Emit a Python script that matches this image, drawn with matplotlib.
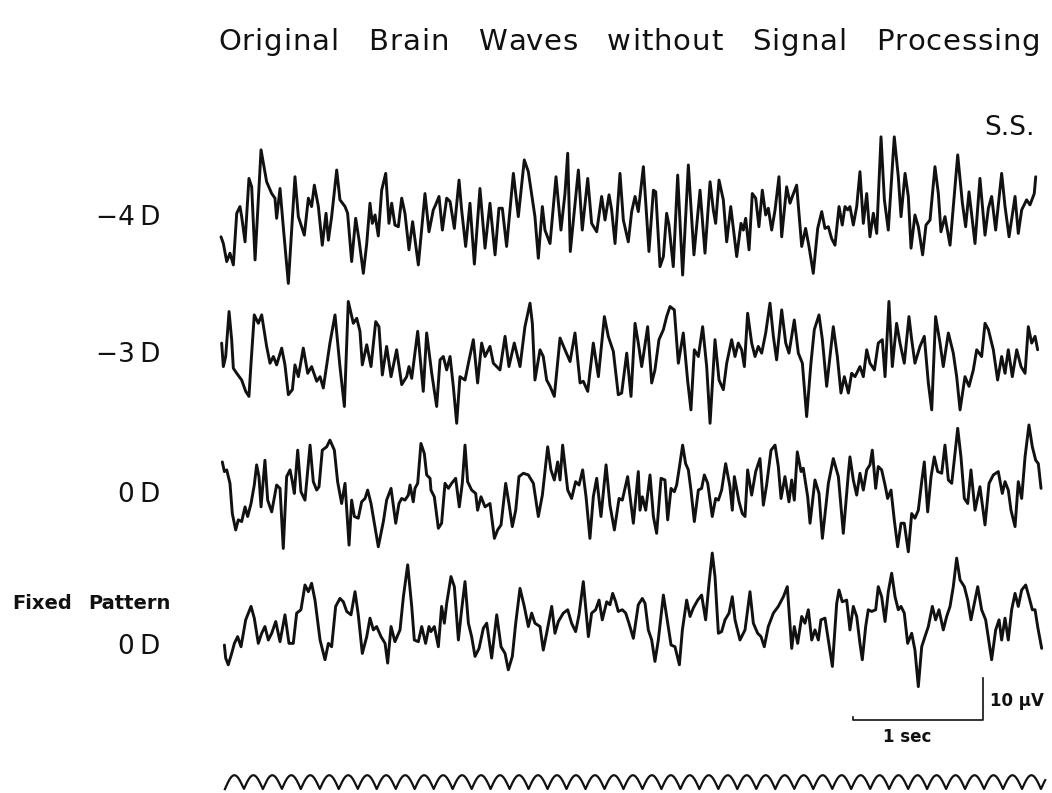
import numpy as np
import matplotlib
matplotlib.use("Agg")
import matplotlib.pyplot as plt
from matplotlib.textpath import TextToPath
from matplotlib.font_manager import FontProperties

# ---------------------------------------------------------------------------
# EEG recordings, subject S.S. — (time [s], amplitude [µV]) turning points
# ---------------------------------------------------------------------------
trace_minus4d = [
    (0.000, -4.0), (0.018, -5.6), (0.044, -9.9), (0.069, -7.9), (0.095, -10.7), (0.121, 1.6),
    (0.146, 3.2), (0.159, 0.8), (0.185, -5.2), (0.215, 9.9), (0.236, 7.9), (0.262, -9.5),
    (0.308, 16.7), (0.351, 9.1), (0.390, 6.3), (0.415, 5.2), (0.428, 0.4), (0.454, 7.5),
    (0.479, -1.6), (0.518, -15.1), (0.569, 10.3), (0.595, 0.8), (0.641, -3.6), (0.672, 5.2),
    (0.697, 3.2), (0.718, 8.3), (0.749, 3.2), (0.779, -6.0), (0.808, 1.6), (0.826, -4.8),
    (0.851, 0.8), (0.890, 11.9), (0.915, 4.8), (0.954, 3.2), (0.974, 1.6), (1.005, -9.9),
    (1.036, 0.4), (1.062, -4.8), (1.095, -12.7), (1.121, -5.6), (1.146, 4.0), (1.164, -0.8),
    (1.185, 1.2), (1.210, -3.8), (1.236, 7.1), (1.267, 11.1), (1.292, -0.8), (1.313, 4.0),
    (1.338, -1.2), (1.364, -1.6), (1.390, 5.2), (1.415, 1.6), (1.446, -7.1), (1.474, -0.4),
    (1.518, -10.7), (1.569, 6.3), (1.600, -2.8), (1.633, 2.4), (1.651, 3.6), (1.677, 5.6),
    (1.703, -2.4), (1.736, 5.2), (1.762, 4.4), (1.795, -2.0), (1.831, 9.5), (1.851, 2.4),
    (1.882, -6.3), (1.915, 4.0), (1.949, -10.5), (1.992, 7.5), (2.031, -6.7), (2.069, 4.0),
    (2.108, -8.3), (2.138, 2.8), (2.164, 2.8), (2.197, -6.3), (2.249, 11.1), (2.287, 0.8),
    (2.333, 14.3), (2.364, 11.5), (2.390, 6.0), (2.415, 0.8), (2.441, -9.1), (2.472, 3.2),
    (2.492, -2.4), (2.531, -5.6), (2.577, 10.3), (2.615, -2.4), (2.646, 6.3), (2.667, 15.9),
    (2.687, -7.5), (2.749, 11.9), (2.779, -2.4), (2.821, 9.9), (2.851, -0.8), (2.890, -2.8),
    (2.928, 5.6), (2.954, 0.0), (2.985, 6.0), (3.005, 2.4), (3.031, -5.6), (3.069, 11.1),
    (3.095, 0.0), (3.133, -5.2), (3.159, 2.0), (3.185, 5.6), (3.210, 2.0), (3.249, 12.7),
    (3.292, -7.5), (3.326, 7.1), (3.344, 6.7), (3.377, -11.1), (3.403, -8.7), (3.428, 1.6),
    (3.446, -1.2), (3.479, -11.1), (3.513, 10.7), (3.551, -13.1), (3.595, 13.1), (3.638, -8.3),
    (3.685, 7.1), (3.723, -7.9), (3.762, 9.1), (3.787, 2.4), (3.805, -0.8), (3.831, 9.5),
    (3.864, 4.8), (3.890, -5.2), (3.921, 3.2), (3.967, -8.7), (4.000, -0.8), (4.018, -2.4),
    (4.036, 0.4), (4.062, -7.1), (4.087, 6.3), (4.113, 5.2), (4.138, -1.6), (4.164, 7.1),
    (4.190, 1.2), (4.210, 2.8), (4.236, -2.4), (4.262, 2.4), (4.292, 10.3), (4.313, -4.0),
    (4.351, 7.9), (4.377, 4.0), (4.395, 5.6), (4.428, 8.3), (4.467, -6.3), (4.497, -2.0),
    (4.523, -6.3), (4.556, -12.7), (4.590, -2.0), (4.621, 2.0), (4.646, -2.0), (4.672, -1.6),
    (4.697, -4.4), (4.723, -6.0), (4.754, 3.2), (4.779, -1.2), (4.800, 3.2), (4.821, 2.4),
    (4.838, 3.2), (4.864, -1.2), (4.890, 3.2), (4.915, 11.5), (4.941, -0.8), (4.967, 6.3),
    (4.992, -4.0), (5.018, 1.6), (5.044, -3.2), (5.077, 19.8), (5.103, 4.8), (5.133, -2.4),
    (5.179, 19.8), (5.210, 10.3), (5.231, 0.8), (5.262, 11.1), (5.287, 5.6), (5.308, -6.7),
    (5.338, 1.2), (5.364, -1.6), (5.397, -8.3), (5.423, -1.2), (5.454, 0.0), (5.492, 12.7),
    (5.518, 6.3), (5.538, -2.8), (5.569, 0.8), (5.608, -6.0), (5.667, 15.5), (5.703, 4.0),
    (5.728, -1.6), (5.754, 6.7), (5.800, -5.6), (5.838, 9.9), (5.877, -3.6), (5.903, 2.8),
    (5.928, 5.6), (5.959, -2.4), (6.005, 11.1), (6.031, 3.2), (6.062, -4.0), (6.108, 5.6),
    (6.133, -3.2), (6.159, 2.4), (6.197, 4.8), (6.223, 3.6), (6.256, 6.3), (6.267, 10.3),
]

trace_minus3d = [
    (0.005, 2.8), (0.018, -2.8), (0.036, -0.4), (0.062, 10.3), (0.082, 3.6), (0.095, -3.2),
    (0.121, -4.4), (0.159, -6.0), (0.190, -8.7), (0.215, -9.9), (0.231, -2.0), (0.256, 9.5),
    (0.287, 7.5), (0.313, 9.5), (0.333, 5.6), (0.351, 2.0), (0.377, -2.0), (0.403, -0.4),
    (0.428, -2.4), (0.467, 1.6), (0.492, -2.4), (0.518, -9.5), (0.549, -8.3), (0.569, -2.4),
    (0.595, -5.2), (0.633, 1.6), (0.667, -4.4), (0.697, -2.8), (0.736, -6.3), (0.762, -5.2),
    (0.787, -7.9), (0.838, 2.8), (0.877, 9.5), (0.915, -2.8), (0.949, -12.3), (0.979, 12.7),
    (1.018, 7.5), (1.044, 8.7), (1.069, 5.6), (1.087, -2.4), (1.121, 2.4), (1.154, -2.8),
    (1.190, 7.9), (1.215, 6.7), (1.241, -4.8), (1.274, 2.0), (1.308, -5.2), (1.351, 1.2),
    (1.390, -7.1), (1.428, -5.2), (1.446, -2.8), (1.467, -5.6), (1.513, 5.6), (1.556, -8.7),
    (1.582, 5.2), (1.608, -1.2), (1.621, -4.4), (1.659, -12.3), (1.685, -1.2), (1.710, -0.4),
    (1.736, -3.6), (1.762, -0.4), (1.787, -7.5), (1.813, -16.3), (1.838, -5.2), (1.877, -6.0),
    (1.903, -2.0), (1.941, 3.6), (1.974, -6.7), (2.005, 2.8), (2.031, -0.4), (2.069, 2.0),
    (2.095, -2.0), (2.121, -2.8), (2.146, -3.6), (2.185, 4.4), (2.215, -2.8), (2.256, 2.8),
    (2.300, -2.8), (2.338, 6.7), (2.377, 12.3), (2.395, 7.5), (2.415, -6.0), (2.454, 1.2),
    (2.479, -0.4), (2.505, -6.0), (2.531, -7.5), (2.564, -9.9), (2.608, 4.0), (2.646, 1.2),
    (2.685, -1.6), (2.723, 5.2), (2.762, -6.7), (2.787, -6.3), (2.821, -8.7), (2.864, 2.8),
    (2.903, -5.2), (2.949, 9.1), (2.979, 4.4), (3.018, 0.8), (3.056, -9.5), (3.082, -9.1),
    (3.121, 0.4), (3.154, -9.9), (3.185, 7.5), (3.210, 2.8), (3.236, -2.8), (3.256, 1.2),
    (3.282, 6.7), (3.313, -6.7), (3.338, -3.6), (3.369, 3.6), (3.403, 6.0), (3.428, 9.1),
    (3.454, 11.5), (3.487, 10.7), (3.518, -2.0), (3.556, 5.2), (3.590, -6.3), (3.615, -13.1),
    (3.641, 1.2), (3.672, -0.4), (3.705, 6.7), (3.736, -2.8), (3.762, -16.3), (3.800, 3.6),
    (3.831, -6.0), (3.864, -8.3), (3.890, -2.0), (3.928, 3.6), (3.954, -0.4), (3.979, 2.8),
    (4.005, 1.2), (4.026, -2.8), (4.051, 9.9), (4.082, 2.8), (4.108, -0.4), (4.133, 2.0),
    (4.159, 0.4), (4.190, 5.2), (4.223, 12.3), (4.249, 4.4), (4.274, -1.2), (4.313, 10.7),
    (4.344, 2.8), (4.369, 0.4), (4.410, 8.3), (4.441, 0.4), (4.472, -2.0), (4.505, -14.7),
    (4.538, -2.0), (4.564, 6.0), (4.600, 9.5), (4.626, 3.6), (4.659, -7.5), (4.710, 6.7),
    (4.741, -0.4), (4.769, -9.1), (4.795, -5.2), (4.826, -9.1), (4.851, -4.4), (4.877, -5.2),
    (4.915, -2.8), (4.941, -5.2), (4.967, 1.2), (4.992, -2.0), (5.026, -3.6), (5.056, 2.8),
    (5.087, 3.6), (5.108, -5.2), (5.138, 12.7), (5.164, -2.8), (5.197, 7.5), (5.223, 2.8),
    (5.256, -2.0), (5.292, 9.1), (5.313, 3.6), (5.338, -2.0), (5.377, 2.0), (5.410, 4.4),
    (5.441, -6.7), (5.467, -13.1), (5.497, 9.1), (5.531, 2.8), (5.556, -2.8), (5.595, 5.2),
    (5.633, 0.4), (5.659, -5.2), (5.685, -13.1), (5.723, -5.2), (5.754, -7.5), (5.787, -3.6),
    (5.813, 1.2), (5.851, -0.4), (5.877, 7.5), (5.903, 6.0), (5.941, 1.2), (5.974, -6.0),
    (6.005, -0.4), (6.031, -4.4), (6.056, 1.2), (6.087, -5.2), (6.121, 1.2), (6.154, -2.8),
    (6.185, -4.4), (6.210, 6.7), (6.236, 2.8), (6.262, 4.4), (6.282, 1.2),
]

trace_0d = [
    (0.010, 6.7), (0.026, 4.4), (0.044, 4.8), (0.069, 1.6), (0.087, -5.6), (0.113, -9.5),
    (0.133, -7.1), (0.159, -7.5), (0.185, -4.0), (0.205, -6.3), (0.231, -3.2), (0.256, 1.2),
    (0.274, 6.0), (0.292, 3.2), (0.308, -4.0), (0.338, 7.1), (0.359, -2.4), (0.390, -5.2),
    (0.428, 1.2), (0.454, 0.4), (0.479, -13.9), (0.505, 3.2), (0.531, 4.8), (0.549, 2.0),
    (0.564, -0.8), (0.590, 9.5), (0.615, -0.4), (0.646, -2.4), (0.685, 10.7), (0.710, 2.0),
    (0.736, 0.0), (0.754, 0.8), (0.779, 9.5), (0.813, 10.3), (0.838, 11.9), (0.872, 9.5),
    (0.897, 2.0), (0.928, -3.2), (0.954, 1.6), (0.985, -13.1), (1.005, -2.4), (1.026, -6.3),
    (1.056, -6.7), (1.082, -2.8), (1.108, -2.0), (1.128, 0.0), (1.154, -3.2), (1.210, -13.5),
    (1.249, -7.5), (1.274, -2.4), (1.308, 0.4), (1.344, -7.9), (1.369, -3.2), (1.390, -2.0),
    (1.415, -2.4), (1.441, -1.2), (1.454, 1.2), (1.479, -2.8), (1.492, 0.4), (1.513, 1.6),
    (1.538, 11.1), (1.564, 8.7), (1.582, 3.6), (1.608, 2.8), (1.615, 0.0), (1.641, -1.6),
    (1.672, -9.1), (1.697, -7.9), (1.723, 1.6), (1.749, 0.4), (1.774, 1.6), (1.805, 2.8),
    (1.833, -4.0), (1.856, 1.6), (1.877, 10.7), (1.897, 2.0), (1.928, 0.0), (1.959, -0.8),
    (1.974, -4.8), (2.000, -1.6), (2.031, -4.0), (2.069, -3.2), (2.103, -11.5), (2.128, -9.5),
    (2.154, -8.3), (2.190, 1.6), (2.215, -3.2), (2.241, -8.7), (2.267, -4.8), (2.292, 3.2),
    (2.326, 4.0), (2.364, 3.6), (2.403, 1.6), (2.441, -6.3), (2.472, -1.2), (2.513, 10.3),
    (2.538, 4.8), (2.564, 2.4), (2.590, 6.7), (2.608, 2.4), (2.628, 10.7), (2.667, 0.0),
    (2.697, -2.0), (2.728, 2.0), (2.754, 1.2), (2.782, 4.8), (2.808, -1.6), (2.838, -11.5),
    (2.864, -1.6), (2.890, 2.8), (2.923, -6.3), (2.962, 6.0), (2.992, -3.6), (3.026, -9.5),
    (3.062, -2.0), (3.087, -2.4), (3.128, 3.2), (3.172, -7.9), (3.210, 4.4), (3.223, -4.8),
    (3.241, -1.6), (3.267, -4.8), (3.300, 3.6), (3.326, -6.3), (3.351, -10.3), (3.385, 2.8),
    (3.415, 2.4), (3.436, -7.1), (3.462, 0.4), (3.487, -0.4), (3.505, 1.2), (3.523, 4.8),
    (3.551, 10.7), (3.574, 6.3), (3.595, 4.8), (3.615, 0.0), (3.641, -7.5), (3.672, 0.0),
    (3.697, 0.4), (3.718, 3.6), (3.744, 1.6), (3.779, -6.3), (3.805, -2.0), (3.826, -2.4),
    (3.851, 0.0), (3.882, 6.3), (3.915, 0.8), (3.933, -4.8), (3.949, 3.2), (3.985, -2.8),
    (4.010, -5.6), (4.031, -6.3), (4.051, 4.8), (4.082, -1.2), (4.113, 4.4), (4.146, 7.5),
    (4.172, -3.6), (4.197, 1.2), (4.231, 9.5), (4.262, 10.7), (4.287, 5.6), (4.308, -2.0),
    (4.338, 3.2), (4.369, -2.8), (4.390, 2.4), (4.410, -2.4), (4.433, 9.1), (4.462, 4.4),
    (4.479, 5.2), (4.513, -1.6), (4.531, -7.9), (4.569, 2.4), (4.600, -0.8), (4.626, -11.5),
    (4.672, 1.6), (4.710, 7.5), (4.749, 3.2), (4.787, -10.3), (4.826, 4.0), (4.838, 7.9),
    (4.864, 2.4), (4.890, -1.2), (4.915, 4.0), (4.941, 0.0), (4.967, 4.8), (4.992, 6.0),
    (5.010, 9.5), (5.036, 0.4), (5.056, 5.6), (5.082, 4.8), (5.108, 1.2), (5.128, -2.0),
    (5.154, 0.0), (5.179, -7.1), (5.205, -13.5), (5.231, -7.9), (5.256, -7.9), (5.287, -14.7),
    (5.313, -5.6), (5.338, -6.7), (5.364, -4.8), (5.390, 2.0), (5.410, 6.7), (5.436, -5.2),
    (5.462, 3.2), (5.487, 7.9), (5.513, 4.4), (5.544, 4.0), (5.569, 10.7), (5.595, 2.4),
    (5.621, 1.6), (5.646, 8.7), (5.667, 14.7), (5.692, 7.9), (5.718, -2.0), (5.744, -3.2),
    (5.769, 4.8), (5.800, -4.8), (5.838, 0.8), (5.877, -8.3), (5.908, 1.6), (5.941, 3.6),
    (5.979, 4.4), (6.010, -0.8), (6.031, 2.0), (6.056, 0.0), (6.077, -4.8), (6.108, -8.7),
    (6.133, 2.0), (6.159, -2.0), (6.185, 7.9), (6.215, 15.5), (6.241, 10.3), (6.267, 7.1),
    (6.287, 6.3), (6.308, 0.4),
]

trace_fixed_0d = [
    (0.026, -3.6), (0.036, -6.7), (0.056, -8.3), (0.082, -5.6), (0.103, -3.2), (0.128, -1.6),
    (0.154, -4.0), (0.190, 2.4), (0.231, 5.6), (0.256, 2.8), (0.287, -3.2), (0.313, -0.8),
    (0.338, 0.8), (0.364, -2.4), (0.390, -0.8), (0.421, 2.0), (0.454, -2.8), (0.492, 3.6),
    (0.523, -3.2), (0.556, -3.2), (0.582, 4.0), (0.615, 4.8), (0.646, 10.7), (0.672, 9.1),
    (0.697, 11.1), (0.723, 7.1), (0.762, -2.4), (0.800, -7.1), (0.826, -3.2), (0.851, -4.0),
    (0.882, 5.6), (0.915, 7.5), (0.941, 6.7), (0.967, 4.4), (1.000, 3.6), (1.031, 9.1),
    (1.056, 3.6), (1.087, -5.6), (1.121, -1.6), (1.146, 2.8), (1.172, 0.0), (1.197, 0.8),
    (1.231, -1.6), (1.262, -3.2), (1.282, -7.9), (1.308, 0.8), (1.338, -2.8), (1.377, 0.0),
    (1.403, 7.9), (1.436, 15.5), (1.467, 5.6), (1.487, -2.4), (1.518, -2.8), (1.544, 0.8),
    (1.574, -3.2), (1.600, 0.8), (1.615, -0.4), (1.641, 0.8), (1.672, -4.0), (1.697, 5.6),
    (1.718, 1.6), (1.736, 6.3), (1.769, 12.7), (1.795, 10.3), (1.826, -2.4), (1.851, 4.8),
    (1.877, 11.5), (1.903, 1.6), (1.928, -1.6), (1.954, -6.3), (1.985, -4.4), (2.018, 0.4),
    (2.044, 1.6), (2.082, -6.7), (2.121, 3.6), (2.154, -4.0), (2.185, -5.6), (2.210, -9.5),
    (2.241, -6.3), (2.267, 1.6), (2.300, 9.9), (2.333, 5.6), (2.364, 0.8), (2.390, 4.0),
    (2.415, 1.6), (2.454, 0.8), (2.479, -4.8), (2.505, -0.8), (2.544, 5.6), (2.569, -0.8),
    (2.595, 2.0), (2.633, 4.0), (2.667, 4.8), (2.697, 1.6), (2.728, -0.4), (2.754, 3.6),
    (2.787, 11.5), (2.826, -1.6), (2.851, 4.0), (2.882, 4.8), (2.908, 7.1), (2.933, 2.4),
    (2.967, 6.7), (2.992, 6.0), (3.013, 8.7), (3.036, 6.7), (3.056, 4.4), (3.087, 4.8),
    (3.113, 4.0), (3.138, 1.6), (3.172, -2.0), (3.210, 6.0), (3.241, 7.5), (3.262, 6.3),
    (3.287, 0.0), (3.313, -2.4), (3.338, -7.5), (3.364, -2.4), (3.403, 8.3), (3.436, 1.6),
    (3.462, -3.6), (3.492, -4.0), (3.526, -8.3), (3.549, 0.0), (3.582, 7.1), (3.608, 3.2),
    (3.633, 5.2), (3.667, 7.1), (3.697, 8.3), (3.728, 2.4), (3.754, 11.1), (3.779, 18.3),
    (3.800, 12.7), (3.826, -0.8), (3.851, -0.4), (3.877, 2.4), (3.908, 4.0), (3.933, 7.9),
    (3.954, 2.4), (3.992, -2.4), (4.031, 0.0), (4.069, 9.1), (4.095, 1.6), (4.128, -0.8),
    (4.154, -1.6), (4.179, -4.0), (4.210, 0.8), (4.249, 4.0), (4.287, 5.6), (4.326, 7.9),
    (4.356, 10.3), (4.390, -4.4), (4.410, 0.8), (4.436, -3.2), (4.467, 3.2), (4.492, 1.6),
    (4.518, 4.8), (4.544, -2.4), (4.569, 0.0), (4.595, -2.4), (4.615, 2.4), (4.646, 2.8),
    (4.672, -2.4), (4.703, -8.7), (4.736, 6.3), (4.754, 9.5), (4.779, 6.7), (4.813, 7.1),
    (4.838, 0.0), (4.864, 5.6), (4.890, 3.2), (4.915, -3.2), (4.933, -7.1), (4.959, 0.8),
    (4.979, 4.8), (5.005, 4.4), (5.036, 4.8), (5.056, 10.3), (5.082, 7.9), (5.108, 2.0),
    (5.133, 9.1), (5.159, 13.5), (5.185, 7.9), (5.210, 4.8), (5.231, 5.6), (5.256, 4.0),
    (5.282, -3.2), (5.313, -0.8), (5.338, -4.8), (5.364, -13.5), (5.390, -4.0), (5.415, -1.6),
    (5.441, 0.8), (5.472, 5.6), (5.497, 2.4), (5.523, 4.8), (5.556, 0.0), (5.582, 3.2),
    (5.608, 5.6), (5.633, 10.3), (5.659, 17.1), (5.685, 11.9), (5.718, 10.3), (5.744, 7.1),
    (5.769, 2.4), (5.795, 6.3), (5.821, 10.3), (5.851, 4.8), (5.882, 2.4), (5.928, -7.1),
    (5.959, 0.0), (5.985, 2.4), (6.005, -2.4), (6.031, 2.8), (6.056, -2.4), (6.082, 4.8),
    (6.108, 8.7), (6.133, 5.6), (6.159, 9.5), (6.190, 10.7), (6.215, 7.9), (6.241, 4.8),
    (6.262, 4.8), (6.282, 0.8), (6.313, -4.4),
]

trace_names = ["\u22124\u2009D", "\u22123\u2009D", "0\u2009D", "0\u2009D"]
subject = "S.S."
title_words = ["Original", "Brain", "Waves", "without", "Signal", "Processing"]

# Photic stimulus marker (rectified sine, one arch per flash)
stim_rate_hz = 6.85
stim_start_s = 0.03
stim_end_s = 6.34

# Calibration
cal_time_s = 1.0
cal_amp_uv = 10.0

# ---------------------------------------------------------------------------
# Layout (seconds horizontally, µV vertically)
# ---------------------------------------------------------------------------
W, H, DPI = 1052, 793, 100
PX_PER_S = 130.0
PX_PER_UV = 4.2
X0_PX, Y0_PX = 221.0, 220.0           # origin of the first trace

fig = plt.figure(figsize=(W / DPI, H / DPI), dpi=DPI)
ax = fig.add_axes([0, 0, 1, 1])
ax.set_xlim(-X0_PX / PX_PER_S, (W - X0_PX) / PX_PER_S)
ax.set_ylim(-(H - Y0_PX) / PX_PER_UV, Y0_PX / PX_PER_UV)
ax.axis("off")

offsets_uv = [0.0, -32.1, -64.3, -97.6]
traces = [trace_minus4d, trace_minus3d, trace_0d, trace_fixed_0d]

ink = "#111111"
for data, off in zip(traces, offsets_uv):
    arr = np.array(data)
    ax.plot(arr[:, 0], arr[:, 1] + off, color=ink, lw=2.1,
            solid_joinstyle="round", solid_capstyle="round")

# stimulus marker
stim_t = np.linspace(stim_start_s, stim_end_s, 4000)
stim_v = 3.3 * np.abs(np.sin(np.pi * stim_rate_hz * (stim_t - stim_start_s)))
ax.plot(stim_t, stim_v - 135.5, color=ink, lw=1.6)

# calibration bar
cx0, cy0 = 4.862, -119.0
ax.plot([cx0, cx0, cx0 + cal_time_s, cx0 + cal_time_s],
        [cy0 + 0.7, cy0, cy0, cy0 + cal_amp_uv], color=ink, lw=1.2)
ax.text(cx0 + cal_time_s + 0.05, cy0 + cal_amp_uv * 0.45, "10 µV",
        fontsize=12, fontweight="bold", color=ink, ha="left", va="center")
ax.text(cx0 + 0.42, cy0 - 4.2, "1 sec",
        fontsize=12, fontweight="bold", color=ink, ha="center", va="center")

# ---------------------------------------------------------------------------
# Title in tracked lettering
# ---------------------------------------------------------------------------
_t2p = TextToPath()
TITLE_SIZE = 21


def width_px(s, size, weight="normal"):
    fp = FontProperties(family="DejaVu Sans", size=size, weight=weight)
    w, _, _ = _t2p.get_text_width_height_descent(s, fp, ismath=False)
    return w * DPI / 72.0


title_left_px, title_right_px, word_gap_px = 218.0, 1040.0, 30.0
plain = sum(width_px(w, TITLE_SIZE) for w in title_words)
n_inner = sum(len(w) - 1 for w in title_words)
span = title_right_px - title_left_px
track_px = max(0.0, (span - plain - word_gap_px * (len(title_words) - 1)) / n_inner)

x_px = title_left_px
for word in title_words:
    for i, ch in enumerate(word):
        cx = x_px + (width_px(word[:i], TITLE_SIZE) + i * track_px if i else 0.0)
        ax.text((cx - X0_PX) / PX_PER_S, 42.4, ch, fontsize=TITLE_SIZE,
                color=ink, ha="left", va="center")
    x_px += width_px(word, TITLE_SIZE) + (len(word) - 1) * track_px + word_gap_px

# trace labels
label_kw = dict(fontsize=19, color=ink, va="center")
ax.text(6.262, 21.9, subject, ha="right", **label_kw)
label_y = [0.5, -32.1, -65.5, -101.7]
for name, yy in zip(trace_names, label_y):
    ax.text(-0.469, yy, name, ha="right", **label_kw)
ax.text(-1.608, -91.2, "Fixed", fontsize=14, fontweight="bold", color=ink,
        ha="left", va="center")
ax.text(-1.023, -91.2, "Pattern", fontsize=14, fontweight="bold", color=ink,
        ha="left", va="center")

fig.savefig("out.png", dpi=DPI, facecolor="white")
